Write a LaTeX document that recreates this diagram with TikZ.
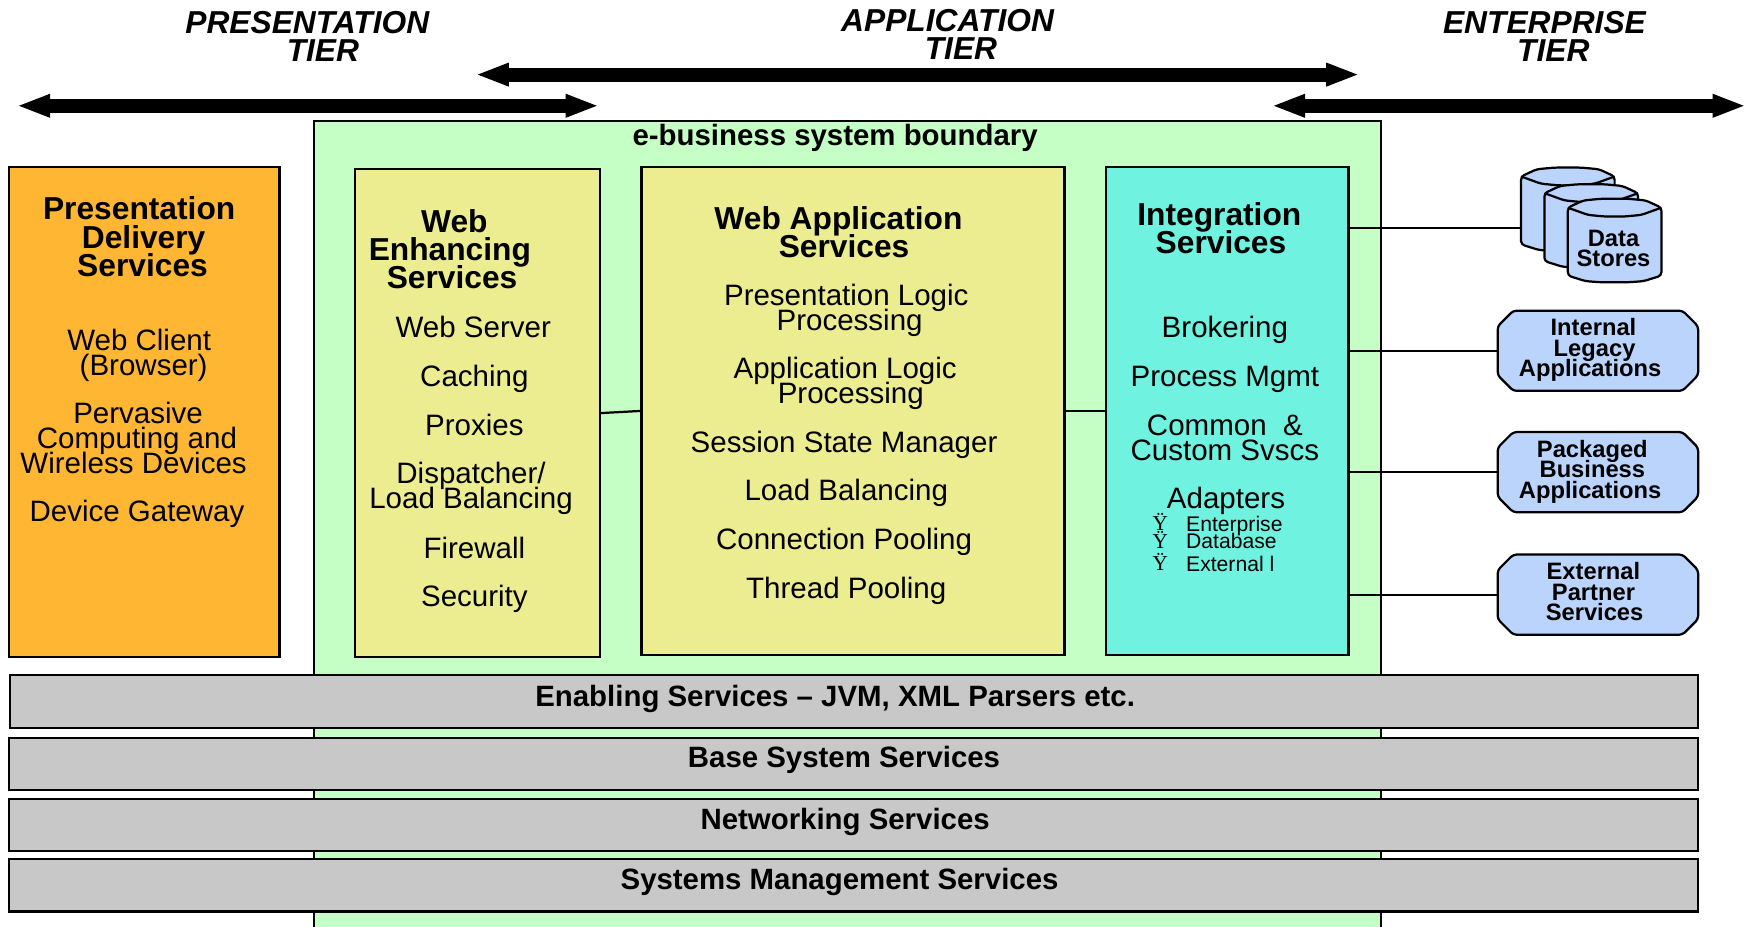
\documentclass[tikz,border=0pt]{standalone}
\usepackage{fontspec}
\setmainfont{Liberation Sans}
\newfontfamily\bulletfont{Liberation Serif}
\usetikzlibrary{arrows.meta}
\usetikzlibrary{shapes.misc}
\definecolor{boundgreen}{HTML}{C6FFC6}
\definecolor{presorange}{HTML}{FFB733}
\definecolor{svcyellow}{HTML}{ECEC91}
\definecolor{intteal}{HTML}{6FF2E0}
\definecolor{rowgray}{HTML}{C8C8C8}
\definecolor{extblue}{HTML}{BAD4FC}
\newcommand{\tightlines}{\lineskiplimit=-50pt\relax}
\tikzset{
  box/.style={draw, line width=2pt, rectangle, inner sep=0pt, outer sep=0pt},
  wire/.style={line width=2pt},
  spread/.style={text height=#1},
  tierarrow/.style={line width=12.5pt, {Triangle[length=30pt,width=19pt]}-{Triangle[length=30pt,width=19pt]}},
  tierlabel/.style={align=center, inner sep=0pt, text height=45pt, text depth=0pt, font=\fontsize{28.5}{25}\selectfont\bfseries\itshape\tightlines},
  heading/.style={align=center, inner sep=0pt, text height=20pt, text depth=0pt, font=\fontsize{28.5}{25.5}\selectfont\bfseries\tightlines},
  item/.style={align=center, inner sep=0pt, text height=19pt, text depth=0pt, font=\fontsize{26.5}{22.3}\selectfont\tightlines},
  subitem/.style={anchor=west, inner sep=0pt, text height=14pt, text depth=0pt, font=\fontsize{19}{19}\selectfont},
  bulletmark/.style={inner sep=0pt, text height=14pt, text depth=0pt, font=\fontsize{19}{19}\selectfont\bulletfont},
  rowlabel/.style={inner sep=0pt, text height=19pt, text depth=0pt, font=\fontsize{26.4}{27}\selectfont\bfseries},
  rowbox/.style={box, fill=rowgray, minimum height=47pt, anchor=west},
  extbox/.style={draw, line width=2pt, fill=extblue, chamfered rectangle, chamfered rectangle xsep=9pt, chamfered rectangle ysep=5pt, rounded corners=3pt, inner sep=0pt, outer sep=0pt, minimum width=180pt, minimum height=72pt, align=center, text height=52pt, text depth=5pt, font=\fontsize{21.3}{18.5}\selectfont\bfseries\tightlines},
  drum/.pic={
    \draw[line width=2pt, fill=extblue, rounded corners=3pt] (-42,-29.5) -- (-28,-36) -- (-12,-37.5) -- (12,-37.5) -- (28,-36) -- (42,-29.5) -- (42,31.5) -- (26,36.5) -- (12,37.5) -- (-12,37.5) -- (-26,36.5) -- (-42,31.5) -- cycle;
    \draw[line width=2pt, rounded corners=3pt] (-42,-29.5) -- (-24,-23) -- (-8,-21.5) -- (8,-21.5) -- (24,-23) -- (42,-29.5);
  }
}
\begin{document}
\begin{tikzpicture}[x=1pt,y=-1pt]
  \useasboundingbox (0,0) rectangle (1568,832);
  % tier headers
  \node[tierlabel] (prestier) at (276,33) {PRESENTATION\\\hspace*{28pt}TIER};
  \node[tierlabel] (apptier) at (851,31) {APPLICATION\\\hspace*{24pt}TIER};
  \node[tierlabel] (enttier) at (1387,33) {ENTERPRISE\\\hspace*{16pt}TIER};
  \coordinate (presleft) at (15,95);
  \coordinate (presright) at (538,95);
  \coordinate (appleft) at (427,67);
  \coordinate (appright) at (1221,67);
  \coordinate (entleft) at (1142,95);
  \coordinate (entright) at (1568,95);
  \draw[tierarrow] (presleft) -- (presright);
  \draw[tierarrow] (appleft) -- (appright);
  \draw[tierarrow] (entleft) -- (entright);
  % boundary
  \node[box, fill=boundgreen, minimum width=958pt, minimum height=740pt, anchor=north west] (boundary) at (282,109) {};
  \node[rowlabel] (boundlabel) at (750,121) {e-business system boundary};
  % service boxes
  \node[box, fill=presorange, minimum width=243pt, minimum height=440pt, anchor=north west] (presbox) at (8,150) {};
  \node[box, fill=svcyellow, minimum width=220pt, minimum height=438pt, anchor=north west] (enhbox) at (319,152) {};
  \node[box, fill=svcyellow, minimum width=380pt, minimum height=438pt, anchor=north west] (appbox) at (576,150) {};
  \node[box, fill=intteal, minimum width=218pt, minimum height=438pt, anchor=north west] (intbox) at (993,150) {};
  \draw[wire] (enhbox.east) -- (appbox.west);
  \draw[wire] (appbox.east) -- (intbox.west);
  % presentation delivery
  \node[heading, spread=71pt] (preshead) at (125,213) {Presentation\\\hspace*{8pt}Delivery\\\hspace*{6pt}Services};
  \node[item, spread=41.3pt] (webclient) at (125,316.5) {Web Client\\\hspace*{8pt}(Browser)};
  \node[item, spread=63.6pt] (pervasive) at (120,393) {\hspace*{8pt}Pervasive\\\hspace*{6pt}Computing and\\Wireless Devices};
  \node[item] (gateway) at (123,459) {Device Gateway};
  % web enhancing
  \node[heading, spread=71pt] (enhhead) at (404,224) {\hspace*{8pt}Web\\Enhancing\\\hspace*{4pt}Services};
  \node[item] (webserver) at (425,294) {Web Server};
  \node[item] (caching) at (426,338) {Caching};
  \node[item] (proxies) at (426,382) {Proxies};
  \node[item, spread=41.3pt] (dispatcher) at (423,436) {Dispatcher/\\Load Balancing};
  \node[item] (firewall) at (426,492) {Firewall};
  \node[item] (security) at (426,535) {Security};
  % web application
  \node[heading, spread=45.5pt] (apphead) at (753,208.5) {Web Application\\\hspace*{10pt}Services};
  \node[item, spread=41.3pt] (preslogic) at (760,276) {Presentation Logic\\\hspace*{6pt}Processing};
  \node[item, spread=41.3pt] (applogic) at (759,342) {Application Logic\\\hspace*{10pt}Processing};
  \node[item] (session) at (758,397) {Session State Manager};
  \node[item] (loadbal) at (760,440) {Load Balancing};
  \node[item] (connpool) at (758,484) {Connection Pooling};
  \node[item] (threadpool) at (760,528) {Thread Pooling};
  % integration
  \node[heading, spread=45.5pt] (inthead) at (1095,205) {Integration\\\hspace*{3pt}Services};
  \node[item] (brokering) at (1100,294) {Brokering};
  \node[item] (procmgmt) at (1100,338) {Process Mgmt};
  \node[item, spread=41.3pt] (common) at (1100,393) {Common ~\&\\Custom Svscs};
  \node[item] (adapters) at (1101,447) {Adapters};
  \node[bulletmark] (bulletone) at (1042,469) {Ÿ};
  \node[bulletmark] (bullettwo) at (1042,486) {Ÿ};
  \node[bulletmark] (bulletthree) at (1042,505) {Ÿ};
  \node[subitem] (enterprise) at (1065,470) {Enterprise};
  \node[subitem] (database) at (1065,486) {Database};
  \node[subitem] (external) at (1065,506) {External l};
  % enterprise resources
  \pic at (1408,188) {drum};
  \pic at (1429,203) {drum};
  \pic at (1450,216) {drum};
  \node[inner sep=0pt, align=center, text height=32.5pt, text depth=0pt, font=\fontsize{21.3}{17.5}\selectfont\bfseries\tightlines] (storetext) at (1449,223) {Data\\Stores};
  \node[extbox] (legacy) at (1435,315) {\mbox{Internal\hspace{8pt}}\\\mbox{Legacy\hspace{6pt}}\\\mbox{Applications\hspace{14pt}}};
  \node[extbox] (packaged) at (1435,424) {\mbox{Packaged\hspace{10pt}}\\\mbox{Business\hspace{10pt}}\\\mbox{Applications\hspace{14pt}}};
  \node[extbox] (partner) at (1435,534) {\mbox{External\hspace{8pt}}\\\mbox{Partner\hspace{8pt}}\\\mbox{Services\hspace{6pt}}};
  \coordinate (storein) at (1366,205);
  \draw[wire] (intbox.east |- storein) -- (storein);
  \draw[wire] (intbox.east |- legacy.west) -- (legacy.west);
  \draw[wire] (intbox.east |- packaged.west) -- (packaged.west);
  \draw[wire] (intbox.east |- partner.west) -- (partner.west);
  % shared service rows
  \node[rowbox, minimum width=1516pt] (enabling) at (9,630) {};
  \node[rowbox, minimum width=1517pt] (basesvc) at (8,686) {};
  \node[rowbox, minimum width=1517pt] (netsvc) at (8,741) {};
  \node[rowbox, minimum width=1517pt] (mgmtsvc) at (8,795) {};
  \node[rowlabel] (enablinglabel) at (750,625) {Enabling Services – JVM, XML Parsers etc.};
  \node[rowlabel] (baselabel) at (758,680) {Base System Services};
  \node[rowlabel] (netlabel) at (759,735) {Networking Services};
  \node[rowlabel] (mgmtlabel) at (754,789) {Systems Management Services};
\end{tikzpicture}
\end{document}
